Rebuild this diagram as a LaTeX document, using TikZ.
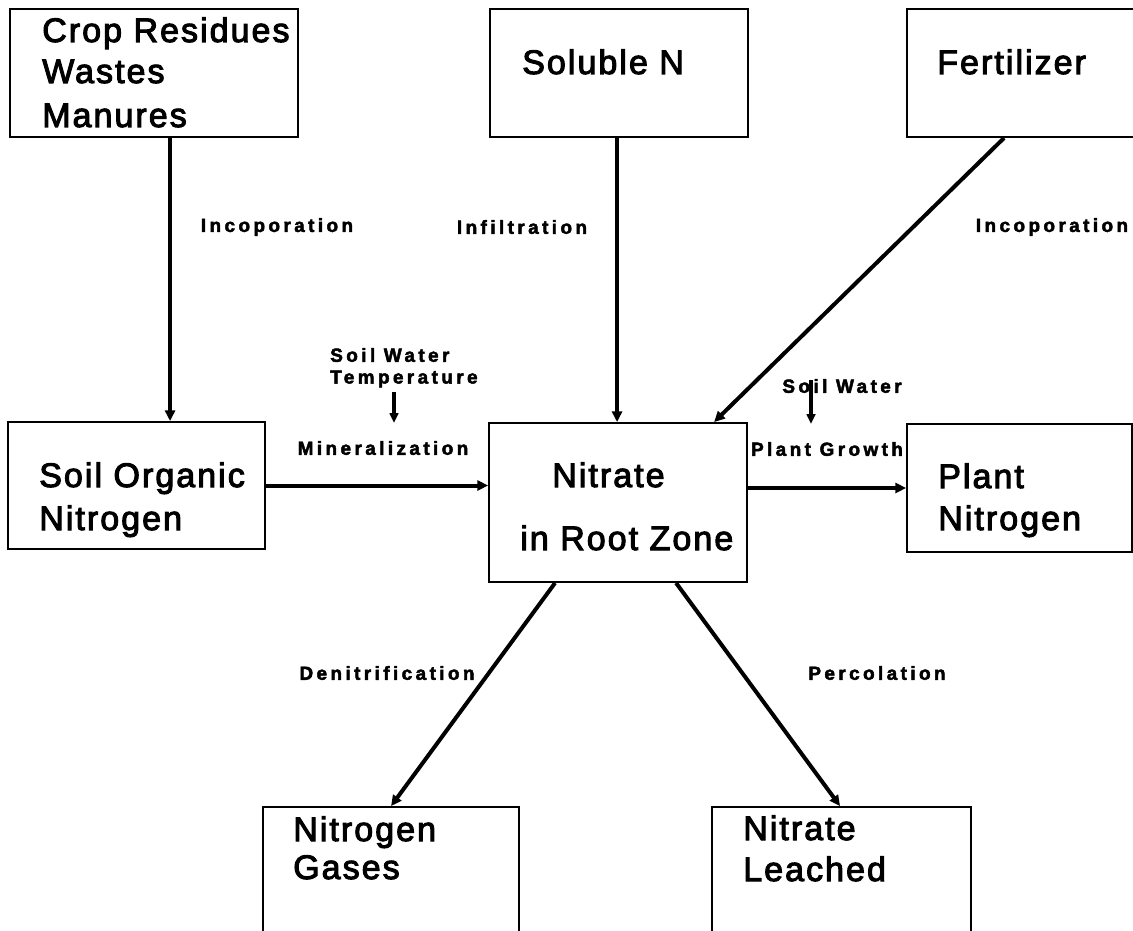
\documentclass[tikz,border=0pt]{standalone}
\usepackage{fontspec}
\usetikzlibrary{arrows.meta,calc,fit}
\newfontfamily\boxfont{Liberation Sans}[LetterSpace=6,
  BoldFont={Liberation Sans}, BoldFeatures={FakeBold=3}]
\newfontfamily\labfont{Liberation Sans}[LetterSpace=18,
  BoldFont={Liberation Sans Bold}, BoldFeatures={FakeBold=2.5}]

\begin{document}
\begin{tikzpicture}[x=0.75pt,y=-0.75pt,
  pool/.style={draw, line width=1.4pt, inner sep=0pt},
  boxtext/.style={font=\boxfont\bfseries\fontsize{25.5}{30}\selectfont, inner sep=0pt, anchor=base west},
  lab/.style={font=\labfont\bfseries\fontsize{14.2}{17}\selectfont, inner sep=0pt},
  flow/.style={line width=3pt, -{Triangle[length=8pt,width=7.5pt]}},
  cue/.style={line width=2.3pt, -{Triangle[length=7.5pt,width=6.5pt]}}]

% canvas
\useasboundingbox (0,0) rectangle (1133,931);
\fill[white] (0,0) rectangle (1133,931);

% nitrogen pools
\node[pool, fit={(10,9) (298,137)}]   (crop)    {};
\node[pool, fit={(490,9) (748,137)}]  (soluble) {};
\node[pool, fit={(907,9) (1145,137)}] (fert)    {};
\node[pool, fit={(8,422) (265,549)}]  (soil)    {};
\node[pool, fit={(489,423) (747,582)}] (nitrate) {};
\node[pool, fit={(907,424) (1132,552)}] (plant)  {};
\node[pool, fit={(263,807) (519,945)}] (gases)   {};
\node[pool, fit={(712,807) (971,945)}] (leached) {};

% pool names
\node[boxtext] (crop-a) at (42,42)  {Crop Residues};
\node[boxtext] (crop-b) at (42,83)  {Wastes};
\node[boxtext] (crop-c) at (42,127) {Manures};
\node[boxtext] (soluble-a) at (522,74) {Soluble N};
\node[boxtext] (fert-a) at (937,74) {Fertilizer};
\node[boxtext] (soil-a) at (39,487) {Soil Organic};
\node[boxtext] (soil-b) at (39,530) {Nitrogen};
\node[boxtext] (nitrate-a) at (552,487) {Nitrate};
\node[boxtext] (nitrate-b) at (520,550) {in Root Zone};
\node[boxtext] (plant-a) at (938,488) {Plant};
\node[boxtext] (plant-b) at (938,530) {Nitrogen};
\node[boxtext] (gases-a) at (293,841) {Nitrogen};
\node[boxtext] (gases-b) at (293,879) {Gases};
\node[boxtext] (leached-a) at (743,840) {Nitrate};
\node[boxtext] (leached-b) at (743,881) {Leached};

% process labels
\node[lab] (incop1) at (277,227) {Incoporation};
\node[lab] (infil)  at (522,227) {Infiltration};
\node[lab] (incop2) at (1052,227) {Incoporation};
\node[lab, anchor=west] (sw1)  at (330,355) {Soil Water};
\node[lab, anchor=west] (temp) at (330,379) {Temperature};
\node[lab] (minz)   at (383,448) {Mineralization};
\node[lab] (sw2)    at (842,386) {Soil Water};
\node[lab] (growth) at (827,449) {Plant Growth};
\node[lab] (denit)  at (387,673) {Denitrification};
\node[lab] (perc)   at (877,673) {Percolation};

% flows between pools
\draw[flow] ($(crop.south west)+(161,0)$) -- ($(soil.north west)+(163,0)$);
\draw[flow] ($(soluble.south west)+(128,0)$) -- ($(nitrate.north west)+(129,0)$);
\draw[flow] ($(fert.south west)+(98,0)$) -- ($(nitrate.north west)+(226,0)$);
\draw[flow] (soil.east) -- (soil.east -| nitrate.west);
\draw[flow] (plant.west -| nitrate.east) -- (plant.west);
\draw[flow] ($(nitrate.south west)+(67,0)$) -- ($(gases.north west)+(129,0)$);
\draw[flow] ($(nitrate.south west)+(188,0)$) -- ($(leached.north west)+(129,0)$);

% controlling factors
\coordinate (tS) at (394,392);
\coordinate (tE) at (394,423);
\draw[cue] (tS) -- (tE);
\coordinate (wS) at (811,380);
\coordinate (wE) at (811,424);
\draw[cue] (wS) -- (wE);
\end{tikzpicture}
\end{document}
